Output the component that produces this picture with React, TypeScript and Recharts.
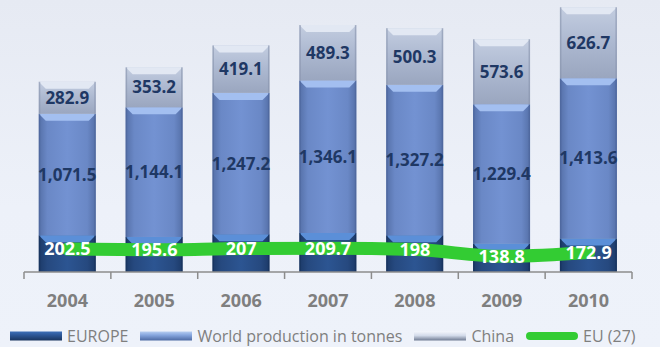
import React from "react";
import {
  ComposedChart,
  Bar,
  Line,
  XAxis,
  YAxis,
  Legend,
  LabelList,
} from "recharts";

const years = ["2004", "2005", "2006", "2007", "2008", "2009", "2010"];
const europe = [324, 309, 333, 344, 324, 251, 296];
const world = [1071.5, 1144.1, 1247.2, 1346.1, 1327.2, 1229.4, 1413.6];
const china = [282.9, 353.2, 419.1, 489.3, 500.3, 573.6, 626.7];
const eu27 = [202.5, 195.6, 207, 209.7, 198, 138.8, 172.9];

const data = years.map((year, i) => ({
  year,
  europe: europe[i],
  world: world[i],
  china: china[i],
  eu: eu27[i],
}));

const FONT = "'Open Sans', 'Noto Sans', sans-serif";
const AXIS = "#8c8c8c";
const TICK_MARGIN = 22;

const fmt = (v: any) =>
  Number(v).toLocaleString("en-US", {
    minimumFractionDigits: 1,
    maximumFractionDigits: 1,
  });

const fmtEu = (v: any) => String(v);

// bevelled bar segment
function makeShape(fillId: string, bevel: string, edge: string) {
  return (props: any) => {
    const { x, y, width, height } = props;
    if (!height || height <= 0) return null;
    const b = Math.min(7, height / 3);
    return (
      <g>
        <rect x={x} y={y} width={width} height={height} fill={`url(#${fillId})`} />
        <polygon
          points={`${x},${y} ${x + width},${y} ${x + width - b},${y + b} ${x + b},${y + b}`}
          fill={bevel}
        />
        <rect x={x} y={y} width={1.5} height={height} fill={edge} opacity={0.6} />
        <rect x={x + width - 1.5} y={y} width={1.5} height={height} fill={edge} opacity={0.6} />
      </g>
    );
  };
}

// year label plus tick marks on the category boundaries
function YearTick(props: any) {
  const { x, y, payload, index, visibleTicksCount } = props;
  const half = payload.offset || 0;
  const axisY = y - TICK_MARGIN;
  const last = index === visibleTicksCount - 1;
  return (
    <g>
      <line x1={x - half} y1={axisY} x2={x - half} y2={axisY + 7} stroke={AXIS} strokeWidth={1.5} />
      {last && (
        <line x1={x + half} y1={axisY} x2={x + half} y2={axisY + 7} stroke={AXIS} strokeWidth={1.5} />
      )}
      <text
        x={x}
        y={y + 13}
        textAnchor="middle"
        fill="#7f7f7f"
        fontSize={18}
        fontWeight={700}
        fontFamily={FONT}
      >
        {payload.value}
      </text>
    </g>
  );
}

const legendItems = [
  { name: "EUROPE", kind: "bar", fill: "lgEurope" },
  { name: "World production in tonnes", kind: "bar", fill: "lgWorld" },
  { name: "China", kind: "bar", fill: "lgChina" },
  { name: "EU (27)", kind: "line", fill: "#33cc33" },
];

function LegendContent() {
  return (
    <div
      style={{
        display: "flex",
        alignItems: "center",
        paddingLeft: 10,
        height: 22,
        fontFamily: FONT,
        fontSize: 16,
        color: "#7f7f7f",
        whiteSpace: "nowrap",
      }}
    >
      {legendItems.map((it) => (
        <div key={it.name} style={{ display: "flex", alignItems: "center", marginRight: 12 }}>
          <svg width={52} height={12} style={{ marginRight: 5 }}>
            <defs>
              <linearGradient id="lgEurope" x1="0" y1="0" x2="0" y2="1">
                <stop offset="0%" stopColor="#3d6fb8" />
                <stop offset="40%" stopColor="#2d5797" />
                <stop offset="100%" stopColor="#1a355f" />
              </linearGradient>
              <linearGradient id="lgWorld" x1="0" y1="0" x2="0" y2="1">
                <stop offset="0%" stopColor="#b6cdf1" />
                <stop offset="40%" stopColor="#86a6de" />
                <stop offset="100%" stopColor="#4d6aa3" />
              </linearGradient>
              <linearGradient id="lgChina" x1="0" y1="0" x2="0" y2="1">
                <stop offset="0%" stopColor="#f2f5fb" />
                <stop offset="45%" stopColor="#d3dbea" />
                <stop offset="100%" stopColor="#6f7b92" />
              </linearGradient>
            </defs>
            {it.kind === "bar" ? (
              <rect x={0} y={1.5} width={52} height={9} fill={`url(#${it.fill})`} />
            ) : (
              <line x1={4} y1={6} x2={48} y2={6} stroke={it.fill} strokeWidth={8} strokeLinecap="round" />
            )}
          </svg>
          <span>{it.name}</span>
        </div>
      ))}
    </div>
  );
}

export default function App() {
  return (
    <div
      style={{
        width: 660,
        height: 347,
        background: "linear-gradient(180deg, #e6eaf3 0%, #edf1f9 60%, #eef2fa 100%)",
        position: "relative",
      }}
    >
      <style>{"body{margin:0}"}</style>
      <ComposedChart
        width={660}
        height={347}
        data={data}
        margin={{ top: 0, right: 28, bottom: 0, left: 24 }}
        barCategoryGap="17%"
      >
        <defs>
          <linearGradient id="gEurope" x1="0" y1="0" x2="1" y2="0">
            <stop offset="0%" stopColor="#1c3a68" />
            <stop offset="15%" stopColor="#26497f" />
            <stop offset="50%" stopColor="#2c5592" />
            <stop offset="85%" stopColor="#26497f" />
            <stop offset="100%" stopColor="#1c3a68" />
          </linearGradient>
          <linearGradient id="gWorld" x1="0" y1="0" x2="1" y2="0">
            <stop offset="0%" stopColor="#5570a8" />
            <stop offset="15%" stopColor="#6a88c6" />
            <stop offset="50%" stopColor="#7392d2" />
            <stop offset="85%" stopColor="#6a88c6" />
            <stop offset="100%" stopColor="#5570a8" />
          </linearGradient>
          <linearGradient id="gChina" x1="0" y1="0" x2="0" y2="1">
            <stop offset="0%" stopColor="#c3cde0" />
            <stop offset="50%" stopColor="#acb8d0" />
            <stop offset="100%" stopColor="#9aa6bf" />
          </linearGradient>
        </defs>
        <XAxis
          dataKey="year"
          axisLine={{ stroke: AXIS, strokeWidth: 1.5 }}
          tickLine={false}
          tickSize={0}
          tickMargin={TICK_MARGIN}
          height={53}
          interval={0}
          tick={<YearTick />}
        />
        <YAxis hide domain={[0, 2400]} />
        <Legend
          verticalAlign="bottom"
          content={<LegendContent />}
          wrapperStyle={{ height: 22, left: 0, width: 660 }}
        />
        <Bar
          dataKey="europe"
          name="EUROPE"
          stackId="a"
          fill="#2c5592"
          shape={makeShape("gEurope", "#5b8fd8", "#16305a")}
          isAnimationActive={false}
        />
        <Bar
          dataKey="world"
          name="World production in tonnes"
          stackId="a"
          fill="#7392d2"
          shape={makeShape("gWorld", "#a3bff0", "#4b6499")}
          isAnimationActive={false}
        >
          <LabelList
            dataKey="world"
            position="center"
            formatter={fmt}
            fill="#1f3864"
            fontSize={17}
            fontWeight={700}
            fontFamily={FONT}
          />
        </Bar>
        <Bar
          dataKey="china"
          name="China"
          stackId="a"
          fill="#acb8d0"
          shape={makeShape("gChina", "#e2e8f3", "#8793ab")}
          isAnimationActive={false}
        >
          <LabelList
            dataKey="china"
            position="center"
            formatter={fmt}
            fill="#1f3864"
            fontSize={17}
            fontWeight={700}
            fontFamily={FONT}
          />
        </Bar>
        <Line
          dataKey="eu"
          name="EU (27)"
          type="monotone"
          stroke="#33cc33"
          strokeWidth={13}
          strokeLinecap="round"
          dot={false}
          activeDot={false}
          isAnimationActive={false}
        >
          <LabelList
            dataKey="eu"
            position="center"
            formatter={fmtEu}
            fill="#ffffff"
            fontSize={18}
            fontWeight={700}
            fontFamily={FONT}
          />
        </Line>
      </ComposedChart>
    </div>
  );
}
